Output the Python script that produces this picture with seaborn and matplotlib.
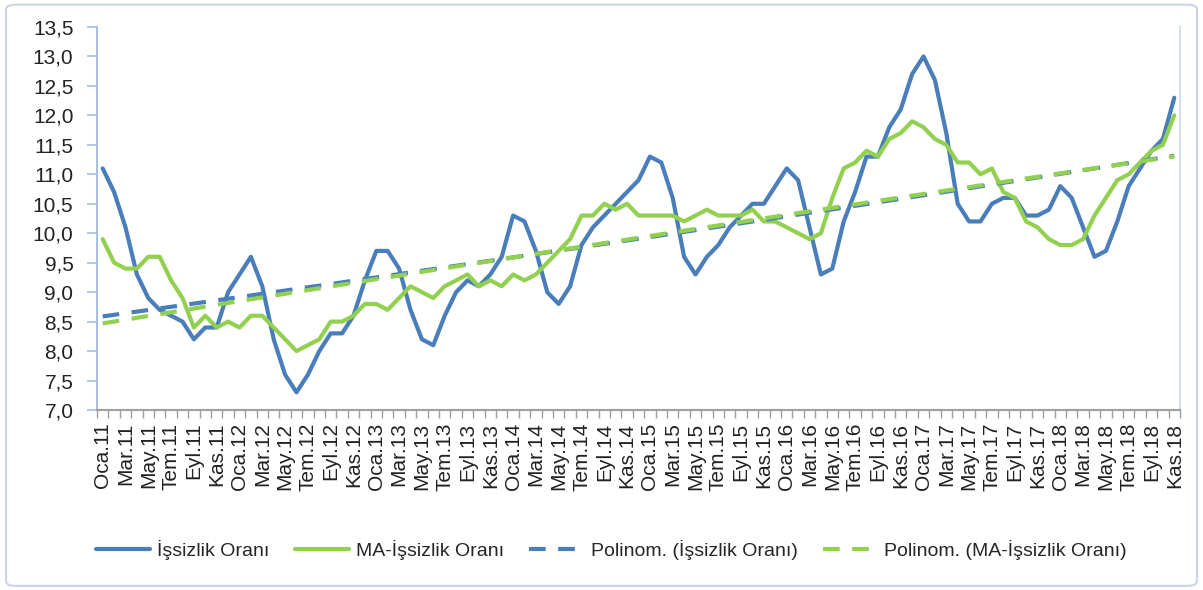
import numpy as np
import pandas as pd
import matplotlib
matplotlib.use("Agg")
import matplotlib.pyplot as plt
import seaborn as sns
from matplotlib.ticker import FuncFormatter
from matplotlib.patches import FancyBboxPatch

# ---- veri (Oca.11 - Kas.18, aylık) ----
aylar = ["Oca", "Şub", "Mar", "Nis", "May", "Haz", "Tem", "Ağu", "Eyl", "Eki", "Kas", "Ara"]
donemler = [f"{a}.{y}" for y in range(11, 19) for a in aylar][:95]

issizlik = [
    11.1, 10.7, 10.1, 9.3, 8.9, 8.7, 8.6, 8.5, 8.2, 8.4,
    8.4, 9.0, 9.3, 9.6, 9.1, 8.2, 7.6, 7.3, 7.6, 8.0,
    8.3, 8.3, 8.6, 9.2, 9.7, 9.7, 9.4, 8.7, 8.2, 8.1,
    8.6, 9.0, 9.2, 9.1, 9.3, 9.6, 10.3, 10.2, 9.7, 9.0,
    8.8, 9.1, 9.8, 10.1, 10.3, 10.5, 10.7, 10.9, 11.3, 11.2,
    10.6, 9.6, 9.3, 9.6, 9.8, 10.1, 10.3, 10.5, 10.5, 10.8,
    11.1, 10.9, 10.1, 9.3, 9.4, 10.2, 10.7, 11.3, 11.3, 11.8,
    12.1, 12.7, 13.0, 12.6, 11.7, 10.5, 10.2, 10.2, 10.5, 10.6,
    10.6, 10.3, 10.3, 10.4, 10.8, 10.6, 10.1, 9.6, 9.7, 10.2,
    10.8, 11.1, 11.4, 11.6, 12.3,
]

ma_issizlik = [
    9.9, 9.5, 9.4, 9.4, 9.6, 9.6, 9.2, 8.9, 8.4, 8.6,
    8.4, 8.5, 8.4, 8.6, 8.6, 8.4, 8.2, 8.0, 8.1, 8.2,
    8.5, 8.5, 8.6, 8.8, 8.8, 8.7, 8.9, 9.1, 9.0, 8.9,
    9.1, 9.2, 9.3, 9.1, 9.2, 9.1, 9.3, 9.2, 9.3, 9.5,
    9.7, 9.9, 10.3, 10.3, 10.5, 10.4, 10.5, 10.3, 10.3, 10.3,
    10.3, 10.2, 10.3, 10.4, 10.3, 10.3, 10.3, 10.4, 10.2, 10.2,
    10.1, 10.0, 9.9, 10.0, 10.6, 11.1, 11.2, 11.4, 11.3, 11.6,
    11.7, 11.9, 11.8, 11.6, 11.5, 11.2, 11.2, 11.0, 11.1, 10.7,
    10.6, 10.2, 10.1, 9.9, 9.8, 9.8, 9.9, 10.3, 10.6, 10.9,
    11.0, 11.2, 11.4, 11.5, 12.0,
]

MAVI = "#4A7EBB"
YESIL = "#92D050"

df = pd.DataFrame({"x": np.arange(len(donemler)), "issizlik": issizlik, "ma": ma_issizlik})

sns.set_theme(style="white")
plt.rcParams["font.family"] = ["Liberation Sans", "DejaVu Sans"]

fig = plt.figure(figsize=(12.03, 5.90), dpi=100)
ax = fig.add_axes([97 / 1203, 1 - 410 / 590, (1180 - 97) / 1203, (410 - 27) / 590])

sns.lineplot(data=df, x="x", y="issizlik", color=MAVI, lw=3, ax=ax, legend=False,
             label="İşsizlik Oranı")
sns.lineplot(data=df, x="x", y="ma", color=YESIL, lw=3, ax=ax, legend=False,
             label="MA-İşsizlik Oranı")
# Excel polinom (2. derece) eğilim çizgileri
sns.regplot(data=df, x="x", y="issizlik", order=2, scatter=False, ci=None, ax=ax,
            color=MAVI, label="Polinom. (İşsizlik Oranı)",
            line_kws=dict(lw=3, dashes=(4, 3)))
sns.regplot(data=df, x="x", y="ma", order=2, scatter=False, ci=None, ax=ax,
            color=YESIL, label="Polinom. (MA-İşsizlik Oranı)",
            line_kws=dict(lw=3, dashes=(4, 3)))

ax.set(xlabel="", ylabel="")
ax.set_xlim(-0.5, len(donemler) - 0.5)
ax.set_ylim(7, 13.5)
ax.set_yticks(np.arange(7, 13.51, 0.5))
ax.yaxis.set_major_formatter(FuncFormatter(lambda v, p: f"{v:.1f}".replace(".", ",")))

ax.set_xticks(df["x"][::2])
ax.set_xticklabels(donemler[::2], rotation=90)
ax.set_xticks(np.arange(-0.5, len(donemler), 1), minor=True)
ax.tick_params(axis="x", which="major", length=0, pad=9, labelsize=15, labelcolor="#222222")
ax.tick_params(axis="x", which="minor", bottom=True, length=6, width=1, color="#A0A0A0")
ax.tick_params(axis="y", left=True, length=7, width=1.2, color="#A7BFE3", pad=10,
               labelsize=15, labelcolor="#222222")

for s in ["left", "bottom", "right", "top"]:
    ax.spines[s].set_visible(True)
ax.spines["left"].set_color("#A7BFE3")
ax.spines["left"].set_linewidth(1.5)
ax.spines["bottom"].set_color("#A0A0A0")
ax.spines["bottom"].set_linewidth(1.5)
ax.spines["right"].set_color("#D3DEEF")
ax.spines["right"].set_linewidth(1.5)
ax.spines["top"].set_visible(False)

handles, labels = ax.get_legend_handles_labels()
fig.legend(handles, labels, loc="center", bbox_to_anchor=(0.508, 1 - 550 / 590), ncol=4,
           frameon=False, fontsize=14, handlelength=2.8, handletextpad=0.35,
           columnspacing=1.3)

fig.patches.append(FancyBboxPatch((0.005, 0.007), 0.99, 0.985,
                                  boxstyle="round,pad=0,rounding_size=0.008",
                                  transform=fig.transFigure, fill=False,
                                  ec="#C9D4E6", lw=1.5))

fig.savefig("out.png", dpi=100)
